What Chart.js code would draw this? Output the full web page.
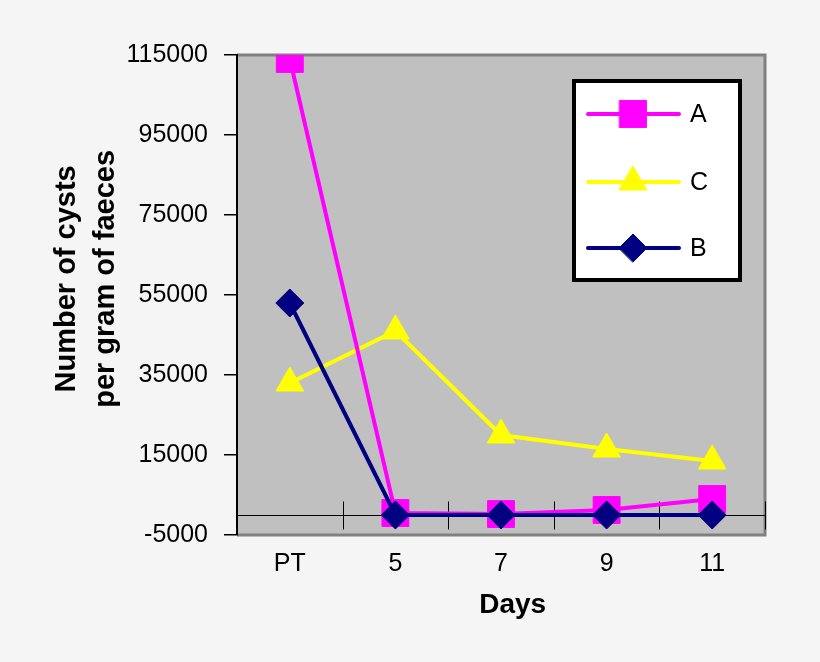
<!DOCTYPE html>
<html>
<head>
<meta charset="utf-8">
<title>Cysts per gram of faeces</title>
<script src="https://cdn.jsdelivr.net/npm/chart.js@4.4.0/dist/chart.umd.min.js"></script>
<style>
  html, body { margin: 0; padding: 0; background: #f5f5f5; }
  #wrap { width: 820px; height: 662px; }
</style>
</head>
<body>
<div id="wrap"><canvas id="cysts" width="820" height="662"></canvas></div>
<script>
// values
const days = ["PT", "5", "7", "9", "11"];
const seriesA = [114000, 500, 250, 1250, 4000];
const seriesC = [33000, 46000, 20000, 16500, 13500];
const seriesB = [53000, 0, 0, 0, 0];
const yMin = -5000;
const yMax = 115000;
const yStep = 20000;

const FONT = "'Liberation Sans', Arial, sans-serif";
const legendRows = [114, 182, 248];

// gray plot background with the dark frame on top / right / bottom
const plotFrame = {
  id: "plotFrame",
  beforeDraw(chart) {
    const { ctx, chartArea: a } = chart;
    ctx.save();
    ctx.fillStyle = "#c0c0c0";
    ctx.fillRect(a.left, a.top, a.right - a.left, a.bottom - a.top);
    ctx.strokeStyle = "#808080";
    ctx.lineWidth = 3;
    ctx.beginPath();
    ctx.moveTo(a.left, a.top);
    ctx.lineTo(a.right, a.top);
    ctx.lineTo(a.right, a.bottom);
    ctx.lineTo(a.left, a.bottom);
    ctx.stroke();
    ctx.restore();
  }
};

// the x axis line sits at zero, with tick marks between categories
const zeroAxis = {
  id: "zeroAxis",
  beforeDatasetsDraw(chart) {
    const { ctx, chartArea: a, scales: { x, y } } = chart;
    const y0 = Math.round(y.getPixelForValue(0)) + 0.5;
    ctx.save();
    ctx.strokeStyle = "#000";
    ctx.lineWidth = 1;
    ctx.beginPath();
    ctx.moveTo(a.left, y0);
    ctx.lineTo(a.right, y0);
    for (let i = 1; i <= days.length; i++) {
      const px = Math.round(x.getPixelForValue(i - 0.5)) + 0.5;
      ctx.moveTo(px, y0 - 14);
      ctx.lineTo(px, y0 + 14);
    }
    ctx.stroke();
    ctx.restore();
  }
};

// boxed legend inside the plot, upper right
const boxLegend = {
  id: "boxLegend",
  afterDraw(chart) {
    const ctx = chart.ctx;
    ctx.save();
    ctx.fillStyle = "#fff";
    ctx.fillRect(574, 81, 166, 199);
    ctx.strokeStyle = "#000";
    ctx.lineWidth = 4;
    ctx.strokeRect(574, 81, 166, 199);
    chart.data.datasets.forEach((ds, i) => {
      const ly = legendRows[i];
      ctx.strokeStyle = ds.borderColor;
      ctx.lineWidth = 4;
      ctx.lineCap = "round";
      ctx.beginPath();
      ctx.moveTo(588, ly);
      ctx.lineTo(679, ly);
      ctx.stroke();
      ctx.fillStyle = ds.pointBackgroundColor;
      ctx.strokeStyle = ds.pointBorderColor;
      ctx.lineWidth = 1;
      Chart.helpers.drawPoint(ctx, {
        pointStyle: ds.pointStyle, radius: ds.pointRadius, rotation: 0, borderWidth: 1
      }, 633, ly);
      ctx.fillStyle = "#000";
      ctx.font = "25px " + FONT;
      ctx.textBaseline = "middle";
      ctx.textAlign = "left";
      ctx.fillText(ds.label, 690, ly + 1);
    });
    ctx.restore();
  }
};

function series(label, data, color, style, radius, order) {
  return {
    label, data, order,
    borderColor: color,
    backgroundColor: color,
    pointBackgroundColor: color,
    pointBorderColor: color,
    pointBorderWidth: 1,
    pointStyle: style,
    pointRadius: radius,
    pointHoverRadius: radius,
    borderWidth: 4,
    tension: 0,
    fill: false
  };
}

new Chart(document.getElementById("cysts"), {
  type: "line",
  data: {
    labels: days,
    datasets: [
      series("A", seriesA, "#ff00ff", "rect", 19, 1),
      series("C", seriesC, "#ffff00", "triangle", 16, 2),
      series("B", seriesB, "#000080", "rectRot", 14, 0)
    ]
  },
  options: {
    responsive: false,
    animation: false,
    layout: { padding: { top: 55, right: 55, bottom: 40, left: 40 } },
    plugins: {
      legend: { display: false },
      tooltip: { enabled: false }
    },
    scales: {
      x: {
        type: "category",
        offset: true,
        grid: { display: false, drawTicks: false },
        border: { display: false },
        ticks: {
          color: "#000",
          font: { family: FONT, size: 25 },
          padding: 14,
          maxRotation: 0,
          autoSkip: false
        },
        title: {
          display: true,
          text: "   Days",
          color: "#000",
          font: { family: FONT, size: 28, weight: "bold" },
          padding: { top: 0, bottom: 0 }
        },
        afterFit: s => { s.height = 87; }
      },
      y: {
        min: yMin,
        max: yMax,
        grid: { drawOnChartArea: false, drawTicks: true, tickLength: 13, color: "#000", lineWidth: 1.5 },
        border: { display: true, color: "#000", width: 2 },
        ticks: {
          stepSize: yStep,
          color: "#000",
          font: { family: FONT, size: 25 },
          padding: 16,
          callback: v => String(v)
        },
        title: {
          display: true,
          text: ["    Number of cysts", "    per gram of faeces"],
          color: "#000",
          font: { family: FONT, size: 29, weight: "bold", lineHeight: 1.33 },
          padding: { top: 8, bottom: 0 }
        },
        afterFit: s => { s.width = 197; }
      }
    }
  },
  plugins: [plotFrame, zeroAxis, boxLegend]
});
</script>
</body>
</html>
